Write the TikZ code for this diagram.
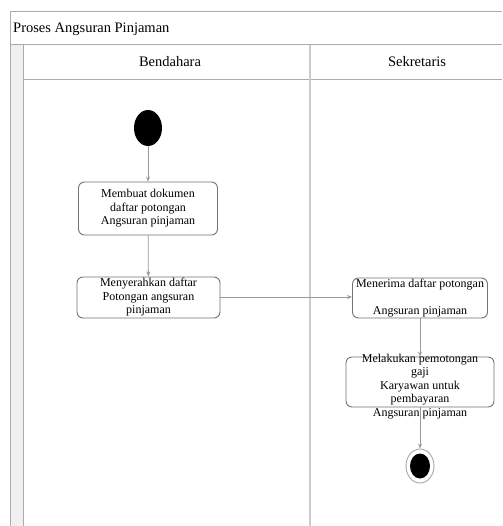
\documentclass[tikz,border=0pt]{standalone}
\usepackage{fontspec}
\setmainfont{Liberation Serif}
\usetikzlibrary{shapes.geometric,arrows.meta}
\begin{document}
\begin{tikzpicture}[x=1pt,y=-1pt,
  frameline/.style={draw=gray!65,line width=1pt},
  actbox/.style={draw=black!55,line width=0.9pt,rounded corners=6pt,fill=white,inner sep=0pt,align=center,font=\fontsize{12}{13.5}\selectfont},
  acttext/.style={inner sep=0pt,align=center,font=\fontsize{12}{13.5}\selectfont},
  flow/.style={draw=gray!80,line width=0.8pt,-{Stealth[length=5pt,width=4pt]}},
  lanefont/.style={font=\fontsize{14.5}{16}\selectfont}]
\useasboundingbox (0,0) rectangle (502,526);
% frame
\fill[gray!12] (10,45) rectangle (23,526);
\draw[frameline] (10,526) -- (10,12) -- (502,12);
\draw[frameline] (10,45) -- (502,45);
\draw[frameline] (23,45) -- (23,526);
\draw[frameline] (23,80) -- (502,80);
\draw[draw=gray!40,line width=2.5pt] (310,45) -- (310,526);
\node[lanefont,anchor=west,inner sep=0pt] (title) at (13,29) {Proses Angsuran Pinjaman};
\node[lanefont,inner sep=0pt] (lane1) at (170,62) {Bendahara};
\node[lanefont,inner sep=0pt] (lane2) at (417,62) {Sekretaris};
% nodes
\node[ellipse,fill=black,inner sep=0pt,minimum width=28pt,minimum height=36pt] (start) at (148,128) {};
\node[actbox,minimum width=139pt,minimum height=53pt] (b1) at (148,208.5) {Membuat dokumen\\daftar potongan\\Angsuran pinjaman};
\node[actbox,minimum width=143pt,minimum height=41pt] (b2) at (148.5,297.5) {Menyerahkan daftar\\Potongan angsuran\\pinjaman};
\node[actbox,minimum width=135pt,minimum height=40pt] (b3) at (420,298) {Menerima daftar potongan\\\strut\\Angsuran pinjaman};
\node[actbox,minimum width=148pt,minimum height=50pt] (b4) at (420,382) {};
\node[acttext] (t4) at (420,386.5) {Melakukan pemotongan\\gaji\\Karyawan untuk\\pembayaran\\Angsuran pinjaman};
\node[ellipse,draw=gray!70,line width=0.9pt,fill=white,inner sep=0pt,minimum width=28pt,minimum height=34pt] (end) at (420,466) {};
\node[ellipse,fill=black,inner sep=0pt,minimum width=20pt,minimum height=25pt] (endin) at (420,466) {};
% connectors
\draw[flow] (start) -- (b1);
\draw[flow] (b1) -- (b2);
\draw[flow] (b2.east |- 0,297) -- (b3.west |- 0,297);
\draw[flow] (b3) -- (b4);
\draw[flow] (b4) -- (end);
\end{tikzpicture}
\end{document}
